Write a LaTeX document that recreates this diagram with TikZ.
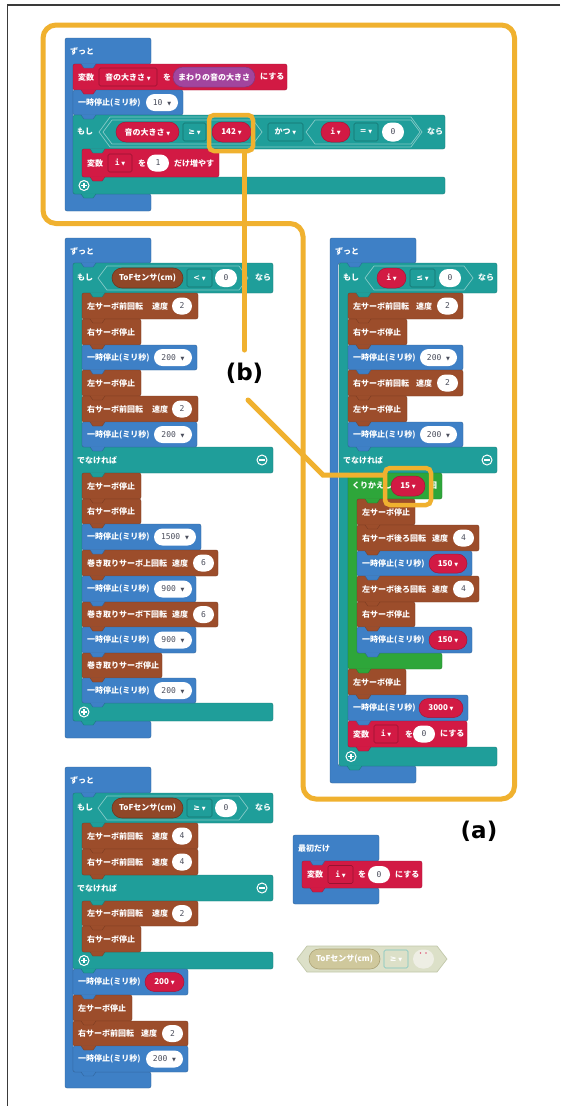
\documentclass[tikz,border=0pt]{standalone}
\usepackage{fontspec}
\usetikzlibrary{shapes.misc,calc}
\newfontfamily\jp{Noto Sans CJK JP}
\newfontfamily\mono{DejaVu Sans Mono}
\newfontfamily\dv{DejaVu Sans}
\pgfdeclarelayer{tabs}\pgfdeclarelayer{front}
\pgfsetlayers{main,tabs,front}

\definecolor{cblue}{HTML}{3E80C6}
\definecolor{cred}{HTML}{D21A44}
\definecolor{cteal}{HTML}{1F9E9A}
\definecolor{cbrown}{HTML}{9C4D2B}
\definecolor{cgreen}{HTML}{2EA63A}
\definecolor{cpurple}{HTML}{A2459E}
\definecolor{corange}{HTML}{F0B12F}
\definecolor{cnum}{HTML}{4B4E5C}
\definecolor{cpale}{HTML}{DCE0C8}
\definecolor{cpaled}{HTML}{C2C8AA}
\definecolor{ckhaki}{HTML}{CFC89C}
\definecolor{ckhakid}{HTML}{ABA275}
\definecolor{cpalew}{HTML}{EEEEE4}
\definecolor{cframe}{HTML}{3A3A3A}

\newcounter{nd}
\newcommand\nid{\stepcounter{nd}}
\newcommand\dn{{\dv\fontsize{5}{5}\selectfont ▼}}

\tikzset{
  lbl/.style={anchor=west, inner sep=0, text=white, font=\jp\bfseries\fontsize{8}{9}\selectfont},
  wov/.style={rounded rectangle, fill=white, minimum height=17pt, inner sep=0, text=cnum,
    font=\mono\fontsize{8}{9}\selectfont},
  rov/.style={rounded rectangle, fill=cred, draw=cred!80!black, line width=.5, minimum height=19pt,
    inner sep=0, text=white, font=\jp\bfseries\fontsize{8}{9}\selectfont},
  pov/.style={rounded rectangle, fill=cpurple, draw=cpurple!80!black, line width=.5, minimum height=20pt,
    inner sep=0, text=white, font=\jp\bfseries\fontsize{8}{9}\selectfont},
  bov/.style={rounded rectangle, fill=cbrown!92!black, draw=cbrown!70!black, line width=.6, minimum height=20pt,
    inner sep=0, text=white, font=\jp\bfseries\fontsize{8}{9}\selectfont},
  ddbox/.style={rectangle, rounded corners=1.5, line width=.6, minimum height=18pt, inner sep=0,
    text=white, font=\jp\bfseries\fontsize{8}{9}\selectfont},
  orng/.style={draw=corange, line width=5},
  hl/.style={draw=corange, line width=4.5, rounded corners=5, inner sep=0},
  biglbl/.style={inner sep=0, text=black, font=\dv\bfseries\fontsize{23}{26}\selectfont},
}

% text label, anchored at its left end
\newcommand\lab[3]{\nid\node[lbl] (t\arabic{nd}) at ({#1},{#2}) {#3};}
% connection tab below a block
\newcommand\tab[3]{\begin{pgfonlayer}{tabs}
  \path[fill=#1] (#2+8,#3-.7) -- (#2+11,#3+4) -- (#2+20,#3+4) -- (#2+23,#3-.7) -- cycle;
  \draw[#1!78!black, line width=.4] (#2+8,#3) -- (#2+11,#3+4) -- (#2+20,#3+4) -- (#2+23,#3);
  \end{pgfonlayer}}
% plain statement block
\newcommand\stmt[5]{\path[fill=#1, draw=#1!78!black, line width=.4, rounded corners=2]
  (#2,#3) rectangle (#4,#5); \tab{#1}{#2}{#5}}
\newcommand\row[6]{\stmt{#1}{#2}{#3}{#4}{#5}\lab{#2+5}{(#3+#5)/2}{#6}}
% C-shaped block with one mouth: colour, x1, x2, arm, top, header bottom, footer top, bottom
\newcommand\cone[8]{\path[fill=#1, draw=#1!78!black, line width=.4, rounded corners=2]
  (#2,#5) -- (#3,#5) -- (#3,#6) -- (#2+#4,#6) -- (#2+#4,#7) -- (#3,#7) -- (#3,#8) -- (#2,#8) -- cycle;}
% if/else block with two mouths
\newcommand\ctwo[9]{\path[fill=#1, draw=#1!78!black, line width=.4, rounded corners=2]
  (#2,#4) -- (#3,#4) -- (#3,#5) -- (#2+9,#5) -- (#2+9,#6) -- (#3,#6) -- (#3,#7) -- (#2+9,#7)
  -- (#2+9,#8) -- (#3,#8) -- (#3,#9) -- (#2,#9) -- cycle;}
% reporters and fields
\newcommand\wov[5][]{\nid\node[wov, minimum width={(#3-#2)*1pt}, #1] (w\arabic{nd}) at ({(#2+#3)/2},{#4}) {#5};}
\newcommand\rov[5][]{\nid\node[rov, minimum width={(#3-#2)*1pt}, #1] (r\arabic{nd}) at ({(#2+#3)/2},{#4}) {#5};}
\newcommand\pov[4]{\nid\node[pov, minimum width={(#2-#1)*1pt}] (v\arabic{nd}) at ({(#1+#2)/2},{#3}) {#4};}
\newcommand\bov[4]{\nid\node[bov, minimum width={(#2-#1)*1pt}] (b\arabic{nd}) at ({(#1+#2)/2},{#3}) {#4};}
\newcommand\dd[5]{\nid\node[ddbox, fill=#5, draw=#5!72!black, minimum width={(#2-#1)*1pt}]
  (d\arabic{nd}) at ({(#1+#2)/2},{#3}) {#4};}
\newcommand\hexa[5][9]{\path[draw=cteal!55!white, line width=.7] (#2,{(#4+#5)/2}) -- (#2+#1,#4)
  -- (#3-#1,#4) -- (#3,{(#4+#5)/2}) -- (#3-#1,#5) -- (#2+#1,#5) -- cycle;}
\newcommand\plusic[2]{\nid\node[circle, draw=white, line width=1, minimum size=10pt, inner sep=0]
  (p\arabic{nd}) at (#1,#2) {};
  \draw[white, line width=1.1] (#1-2.6,#2) -- (#1+2.6,#2) (#1,#2-2.6) -- (#1,#2+2.6);}
\newcommand\minusic[2]{\nid\node[circle, draw=white, line width=1, minimum size=10pt, inner sep=0]
  (m\arabic{nd}) at (#1,#2) {};
  \draw[white, line width=1.1] (#1-2.6,#2) -- (#1+2.6,#2);}

\begin{document}
\begin{tikzpicture}[x=1pt,y=-1pt]
\useasboundingbox (0,0) rectangle (560,1106);
\fill[white] (0,0) rectangle (560,1106);
\draw[cframe, line width=1.2] (560,5) -- (7.5,5) -- (7.5,1106);

% ---------- forever: sound level ----------
\cone{cblue}{65}{151}{8}{38}{64}{194}{211}
\lab{70}{51}{ずっと}
\tab{cblue}{73}{64}
\row{cred}{73}{64}{287}{90}{変数}
\dd{99}{157}{77}{音の大きさ \dn}{cred}
\lab{163}{77}{を}
\pov{173}{255}{77}{まわりの音の大きさ}
\lab{260}{77}{にする}
\row{cblue}{73}{90}{183}{115}{一時停止(ミリ秒)}
\wov{146}{178}{102.5}{10 \dn}
\cone{cteal}{73}{445}{9}{115}{149}{177}{194}
\tab{cteal}{73}{194}\tab{cteal}{82}{149}
\lab{77}{132}{もし}
\hexa[11]{99}{422}{117}{147}
\hexa{103}{262}{120}{144}
\hexa{306}{420}{120}{144}
\rov[minimum height=20pt]{116}{179}{132}{音の大きさ \dn}
\dd{183}{206}{132}{{\dv ≥} \dn}{cteal}
\rov[minimum height=20pt]{212}{251}{132}{142 \dn}
\dd{268}{303}{132}{かつ \dn}{cteal}
\rov[minimum height=20pt]{321}{350}{132}{{\mono i} \dn}
\dd{354}{378}{132}{{\dv =} \dn}{cteal}
\wov[minimum height=19pt]{382}{404}{132}{0}
\lab{427}{132}{なら}
\row{cred}{82}{149}{219}{177}{変数}
\dd{108}{132}{163}{{\mono i} \dn}{cred}
\lab{138}{163}{を}
\wov{147}{169}{163}{1}
\lab{174}{163}{だけ増やす}
\plusic{84}{185.5}

% ---------- forever: obstacle check ----------
\cone{cblue}{65}{151}{8}{238}{263}{721}{738}
\lab{70}{251}{ずっと}
\ctwo{cteal}{73}{273}{263}{293}{447}{473}{703}{721}
\tab{cblue}{73}{263}
\tab{cteal}{82}{293}\tab{cteal}{82}{473}\tab{cteal}{73}{721}
\lab{77}{278}{もし}
\hexa{98}{248}{266}{290}
\bov{112}{183}{278}{ToFセンサ(cm)}
\dd{187}{212}{278}{{\dv <} \dn}{cteal}
\wov[minimum height=18pt]{215}{237}{278}{0}
\lab{255}{278}{なら}
\row{cbrown}{82}{293}{198}{319}{左サーボ前回転}
\lab{152}{306}{速度}\wov{172}{192}{306}{2}
\row{cbrown}{82}{319}{141}{345}{右サーボ停止}
\row{cblue}{82}{345}{197}{370}{一時停止(ミリ秒)}
\wov{154}{192}{357.5}{200 \dn}
\row{cbrown}{82}{370}{141}{396}{左サーボ停止}
\row{cbrown}{82}{396}{198}{422}{右サーボ前回転}
\lab{152}{409}{速度}\wov{172}{192}{409}{2}
\row{cblue}{82}{422}{197}{447}{一時停止(ミリ秒)}
\wov{154}{192}{434.5}{200 \dn}
\lab{77}{460}{でなければ}
\minusic{262}{460}
\row{cbrown}{82}{473}{141}{499}{左サーボ停止}
\row{cbrown}{82}{499}{141}{524}{右サーボ停止}
\row{cblue}{82}{524}{201}{550}{一時停止(ミリ秒)}
\wov{154}{196}{537}{1500 \dn}
\row{cbrown}{82}{550}{218}{576}{巻き取りサーボ上回転}
\lab{172}{563}{速度}\wov{193}{214}{563}{6}
\row{cblue}{82}{576}{196}{602}{一時停止(ミリ秒)}
\wov{154}{192}{589}{900 \dn}
\row{cbrown}{82}{602}{218}{627}{巻き取りサーボ下回転}
\lab{172}{614.5}{速度}\wov{193}{214}{614.5}{6}
\row{cblue}{82}{627}{196}{653}{一時停止(ミリ秒)}
\wov{154}{192}{640}{900 \dn}
\row{cbrown}{82}{653}{162}{678}{巻き取りサーボ停止}
\row{cblue}{82}{678}{196}{703}{一時停止(ミリ秒)}
\wov{154}{192}{690.5}{200 \dn}
\plusic{84}{712}

% ---------- forever: counter driven moves ----------
\cone{cblue}{330}{416}{8}{238}{263}{766}{783}
\lab{335}{251}{ずっと}
\ctwo{cteal}{339}{497}{263}{293}{447}{473}{747}{766}
\tab{cblue}{339}{263}
\tab{cteal}{348}{293}\tab{cteal}{348}{473}\tab{cteal}{339}{766}
\lab{343}{278}{もし}
\hexa{365}{473}{266}{290}
\rov[minimum height=20pt]{377}{406}{278}{{\mono i} \dn}
\dd{410}{435}{278}{{\dv ≤} \dn}{cteal}
\wov[minimum height=18pt]{439}{461}{278}{0}
\lab{478}{278}{なら}
\row{cbrown}{348}{293}{463}{319}{左サーボ前回転}
\lab{416}{306}{速度}\wov{437}{458}{306}{2}
\row{cbrown}{348}{319}{407}{345}{右サーボ停止}
\row{cblue}{348}{345}{463}{370}{一時停止(ミリ秒)}
\wov{420}{457}{357.5}{200 \dn}
\row{cbrown}{348}{370}{463}{396}{右サーボ前回転}
\lab{416}{383}{速度}\wov{437}{458}{383}{2}
\row{cbrown}{348}{396}{407}{422}{左サーボ停止}
\row{cblue}{348}{422}{463}{447}{一時停止(ミリ秒)}
\wov{420}{457}{434.5}{200 \dn}
\lab{343}{460}{でなければ}
\minusic{487}{460}
% repeat loop
\cone{cgreen}{348}{442}{9}{473}{499}{653}{669}
\tab{cgreen}{348}{669}\tab{cgreen}{357}{499}
\lab{352}{486}{くりかえし}
\rov[minimum height=20pt]{391}{425}{486}{15 \dn}
\lab{429}{486}{回}
\row{cbrown}{357}{499}{415}{525}{左サーボ停止}
\row{cbrown}{357}{525}{479}{551}{右サーボ後ろ回転}
\lab{432}{538}{速度}\wov{453}{474}{538}{4}
\row{cblue}{357}{551}{472}{576}{一時停止(ミリ秒)}
\rov{429}{467}{563.5}{150 \dn}
\row{cbrown}{357}{576}{479}{602}{左サーボ後ろ回転}
\lab{432}{589}{速度}\wov{453}{474}{589}{4}
\row{cbrown}{357}{602}{415}{627}{右サーボ停止}
\row{cblue}{357}{627}{472}{653}{一時停止(ミリ秒)}
\rov{429}{467}{640}{150 \dn}
% after the loop
\row{cbrown}{348}{669}{406}{695}{左サーボ停止}
\row{cblue}{348}{695}{468}{721}{一時停止(ミリ秒)}
\rov{419}{463}{708}{3000 \dn}
\row{cred}{348}{721}{467}{747}{変数}
\dd{374}{398}{734}{{\mono i} \dn}{cred}
\lab{405}{734}{を}
\wov{413}{435}{734}{0}
\lab{440}{734}{にする}
\plusic{351}{756.5}

% ---------- forever: drive by distance ----------
\cone{cblue}{65}{151}{8}{767}{793}{1072}{1088}
\lab{70}{780}{ずっと}
\ctwo{cteal}{73}{273}{793}{823}{875}{901}{952}{969}
\tab{cblue}{73}{793}
\tab{cteal}{82}{823}\tab{cteal}{82}{901}\tab{cteal}{73}{969}
\lab{77}{808}{もし}
\hexa{98}{248}{796}{820}
\bov{112}{183}{808}{ToFセンサ(cm)}
\dd{187}{212}{808}{{\dv ≥} \dn}{cteal}
\wov[minimum height=18pt]{215}{237}{808}{0}
\lab{255}{808}{なら}
\row{cbrown}{82}{823}{198}{849}{左サーボ前回転}
\lab{152}{836}{速度}\wov{172}{192}{836}{4}
\row{cbrown}{82}{849}{198}{875}{右サーボ前回転}
\lab{152}{862}{速度}\wov{172}{192}{862}{4}
\lab{77}{888}{でなければ}
\minusic{262}{888}
\row{cbrown}{82}{901}{198}{926}{左サーボ前回転}
\lab{152}{913.5}{速度}\wov{172}{192}{913.5}{2}
\row{cbrown}{82}{926}{141}{952}{右サーボ停止}
\plusic{84}{960.5}
\row{cblue}{73}{969}{188}{995}{一時停止(ミリ秒)}
\rov{145}{184}{982}{200 \dn}
\row{cbrown}{73}{995}{132}{1021}{左サーボ停止}
\row{cbrown}{73}{1021}{188}{1046}{右サーボ前回転}
\lab{141}{1033.5}{速度}\wov{162}{183}{1033.5}{2}
\row{cblue}{73}{1046}{188}{1072}{一時停止(ミリ秒)}
\wov{146}{183}{1059}{200 \dn}

% ---------- on start ----------
\cone{cblue}{293}{379}{9}{835}{861}{888}{904}
\lab{298}{848}{最初だけ}
\tab{cblue}{302}{861}
\row{cred}{302}{861}{422}{888}{変数}
\dd{328}{353}{874.5}{{\mono i} \dn}{cred}
\lab{358}{874.5}{を}
\wov{368}{390}{874.5}{0}
\lab{395}{874.5}{にする}

% ---------- loose, disabled comparison ----------
\path[fill=cpale, draw=cpaled, line width=.7] (297,959) -- (307,946) -- (437,946) -- (447,959)
  -- (437,972) -- (307,972) -- cycle;
\node[rounded rectangle, fill=ckhaki, draw=ckhakid, line width=.6, minimum width=71pt,
  minimum height=20pt, inner sep=0, text=white, font=\jp\bfseries\fontsize{8}{9}\selectfont]
  (tofg) at (344.5,959) {ToFセンサ(cm)};
\node[ddbox, fill=cpale, draw=cteal!60!white, minimum width=24pt] (geg) at (396,959) {{\dv ≥} \dn};
\node[rounded rectangle, fill=cpalew, minimum width=21pt, minimum height=19pt, inner sep=0]
  (cg) at (423.5,959) {};
\fill[cred!70!white] (420.5,953) circle (.9) (426,953) circle (.9);

% ---------- highlights and callouts ----------
\begin{pgfonlayer}{front}
\draw[orng, rounded corners=13] (43,25) -- (514.5,25) -- (514.5,799) -- (303,799) -- (303,223.5)
  -- (43,223.5) -- cycle;
\node[hl, minimum width=44pt, minimum height=36pt] (hl142) at (231,133) {};
\node[hl, minimum width=46pt, minimum height=37pt] (hl15) at (408,486.5) {};
\node[biglbl] (labelb) at (244.5,373.5) {(b)};
\node[biglbl] (labela) at (479,831) {(a)};
\draw[orng, line cap=round, shorten >=13pt] (hl142.south -| labelb.north) -- (labelb.north);
\coordinate (b2) at (248,400);
\coordinate (b3) at (323,475);
\draw[orng, line cap=round] (b2) -- (b3) -- (b3 -| hl15.west);
\end{pgfonlayer}
\end{tikzpicture}
\end{document}
